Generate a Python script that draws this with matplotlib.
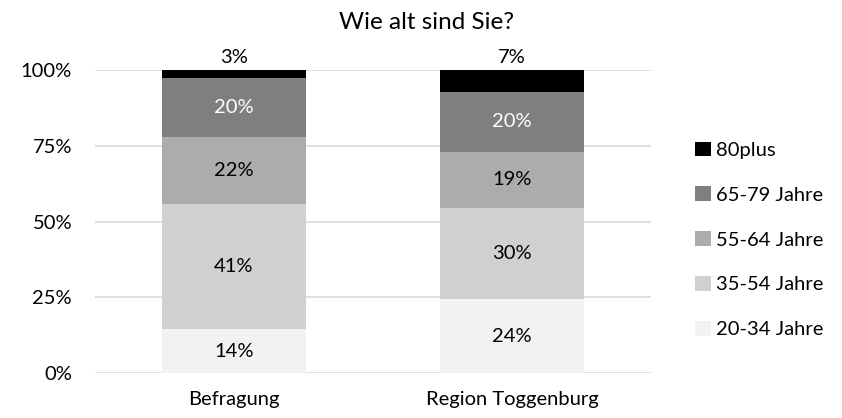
import matplotlib.pyplot as plt
import numpy as np

# categories (x axis) and age groups (stack order, bottom to top)
categories = ["Befragung", "Region Toggenburg"]
age_groups = ["20-34 Jahre", "35-54 Jahre", "55-64 Jahre", "65-79 Jahre", "80plus"]
colors = ["#f2f2f2", "#d0d0d0", "#acacac", "#7f7f7f", "#000000"]

# shares in percent
age_20_34 = [14.4, 24.4]
age_35_54 = [41.4, 30.1]
age_55_64 = [22.2, 18.6]
age_65_79 = [19.5, 19.8]
age_80plus = [2.6, 7.2]

series = [age_20_34, age_35_54, age_55_64, age_65_79, age_80plus]
label_colors = ["black", "black", "black", "white", "black"]

plt.rcParams['font.family'] = ['Lato', 'DejaVu Sans']
fs = 14.5

fig = plt.figure(figsize=(8.42, 4.18), dpi=100)
ax = fig.add_axes([0.1128, 0.1077, 0.6603, 0.7237])

x = np.arange(len(categories))
bottom = np.zeros(len(categories))
handles = []
for name, vals, col, lc in zip(age_groups, series, colors, label_colors):
    vals = np.array(vals)
    b = ax.bar(x, vals, 0.515, bottom=bottom, color=col, label=name, zorder=2)
    handles.append(b)
    for xi, v, bt in zip(x, vals, bottom):
        txt = "{}%".format(int(v + 0.5))
        if name == "80plus":
            # small top segment: label sits above the bar
            ax.text(xi, 100 + 4.3, txt, ha="center", va="center", fontsize=fs, color="black")
        else:
            ax.text(xi, bt + v / 2, txt, ha="center", va="center", fontsize=fs, color=lc)
    bottom = bottom + vals

ax.set_xlim(-0.5, 1.5)
ax.set_ylim(0, 100)
ax.set_yticks([0, 25, 50, 75, 100])
ax.set_yticklabels(["0%", "25%", "50%", "75%", "100%"])
ax.set_xticks(x)
ax.set_xticklabels(categories)
ax.tick_params(length=0, labelsize=fs, colors="black")
ax.tick_params(axis="y", pad=16.5)
ax.tick_params(axis="x", pad=13)
ax.yaxis.grid(True, color="#d9d9d9", linewidth=1.2, zorder=0)
ax.set_axisbelow(True)
for s in ax.spines.values():
    s.set_visible(False)

fig.text(0.5065, 0.946, "Wie alt sind Sie?", ha="center", va="center", fontsize=17.5)

leg = fig.legend(handles[::-1], age_groups[::-1], loc="upper left",
                 bbox_to_anchor=(0.826, 0.661), frameon=False, fontsize=fs,
                 handlelength=0.75, handleheight=0.75, handletextpad=0.25,
                 labelspacing=1.36, borderaxespad=0, borderpad=0)

fig.savefig("out.png", dpi=100)
